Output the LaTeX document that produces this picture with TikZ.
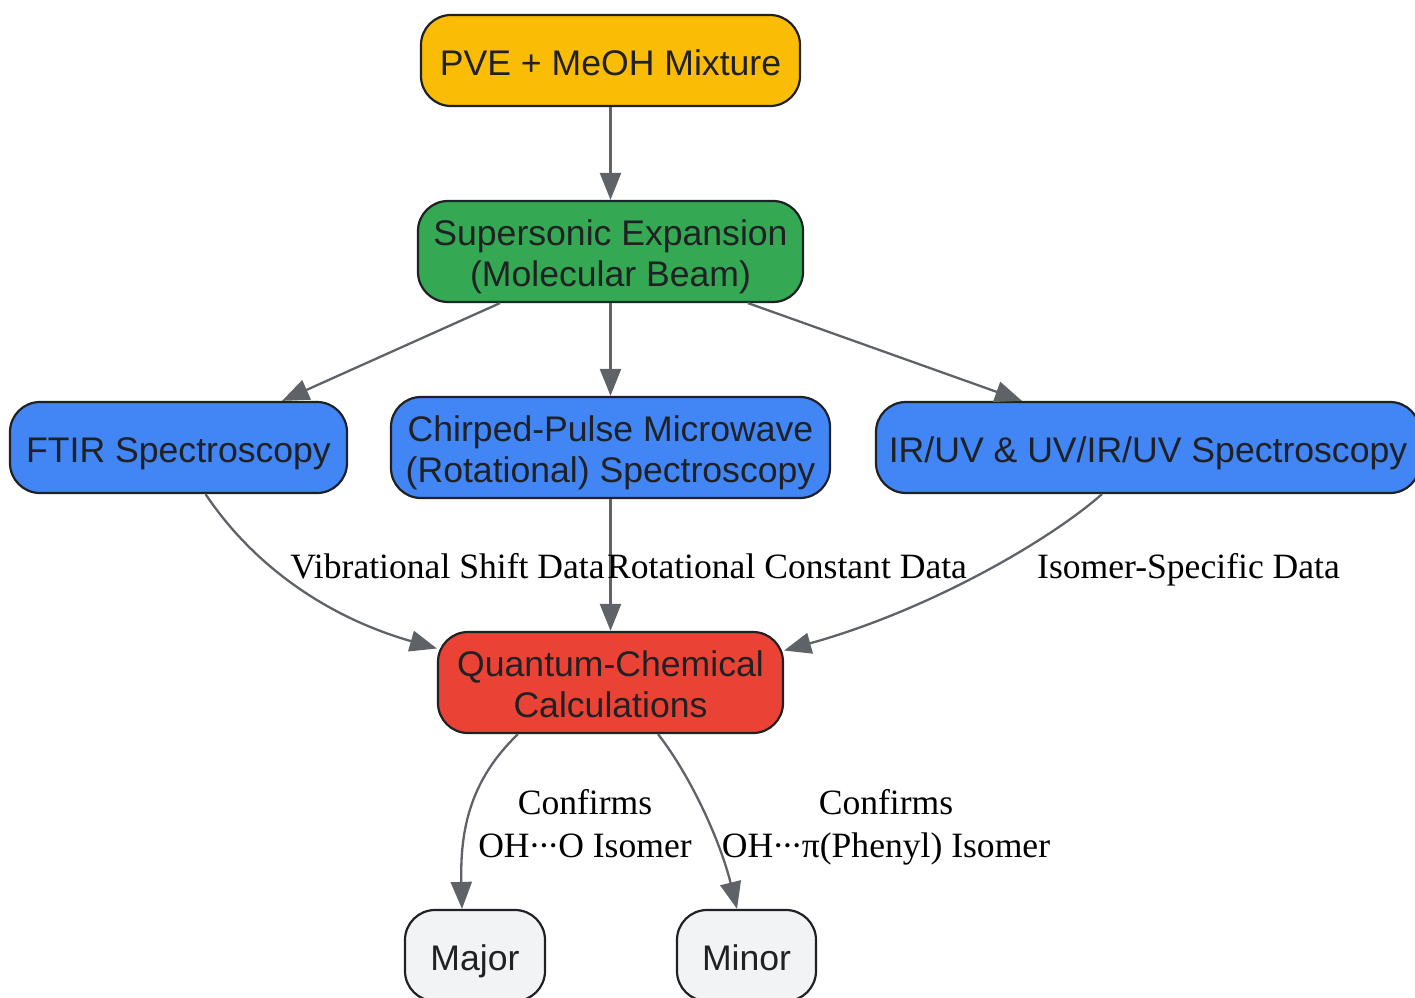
\documentclass[tikz,border=0pt]{standalone}
\usepackage{fontspec}
\setmainfont{Liberation Serif}
\newfontfamily\nodefont{Liberation Sans}
\usetikzlibrary{arrows.meta}
\definecolor{cAmber}{HTML}{FBBC05}
\definecolor{cGreen}{HTML}{34A853}
\definecolor{cBlue}{HTML}{4285F4}
\definecolor{cRed}{HTML}{EA4335}
\definecolor{cGrey}{HTML}{F1F3F4}
\definecolor{cBorder}{HTML}{202124}
\definecolor{cEdge}{HTML}{5F6368}
\newcommand{\twol}[2]{\begin{tabular}[b]{@{}c@{}}#1\\#2\end{tabular}}
\newcommand{\hdots}{\kern-1pt·\kern-2.5pt·\kern-2.5pt·\kern-1pt}
\tikzset{
  box/.style={draw=cBorder, line width=2.2pt, rounded corners=30pt, inner sep=0pt,
    text=cBorder, font=\nodefont\fontsize{35.6}{41}\selectfont\renewcommand{\arraystretch}{1}},
  onel/.style={text height=29pt, text depth=0pt},
  twolines/.style={text height=70pt, text depth=0pt},
  lbl/.style={inner sep=0pt, anchor=base, text=black, font=\fontsize{35.6}{42.4}\selectfont},
  edge/.style={draw=cEdge, line width=2.3pt, -{Triangle[length=27pt,width=21pt]}},
}
\begin{document}
\begin{tikzpicture}[x=1pt,y=-1pt]
\useasboundingbox (0,0) rectangle (1415,997);
\node[box, onel, fill=cAmber, minimum width=379pt, minimum height=91pt] (pve) at (610.5,60.5) {PVE + MeOH Mixture};
\node[box, twolines, fill=cGreen, minimum width=385pt, minimum height=101pt] (sup) at (610.5,251.5) {\twol{Supersonic Expansion}{(Molecular Beam)}};
\node[box, onel, fill=cBlue, minimum width=337pt, minimum height=91pt] (ftir) at (178.5,447.5) {FTIR Spectroscopy};
\node[box, twolines, fill=cBlue, minimum width=439pt, minimum height=101pt] (cp) at (610.5,447.5) {\twol{Chirped-Pulse Microwave}{(Rotational) Spectroscopy}};
\node[box, onel, fill=cBlue, minimum width=544pt, minimum height=91pt] (iruv) at (1148,447.5) {IR/UV \& UV/IR/UV Spectroscopy};
\node[box, twolines, fill=cRed, minimum width=345pt, minimum height=101pt] (qc) at (610.5,682.5) {\twol{Quantum-Chemical}{Calculations}};
\node[box, onel, fill=cGrey, minimum width=140pt, minimum height=91pt] (maj) at (475,955.5) {Major};
\node[box, onel, fill=cGrey, minimum width=139pt, minimum height=91pt] (min) at (746.5,955.5) {Minor};

\draw[edge] (pve.south) -- (sup.north);
\draw[edge] ([xshift=-110.5pt]sup.south) -- ([xshift=103.5pt]ftir.north);
\draw[edge] (sup.south) -- (cp.north);
\draw[edge] ([xshift=137.5pt]sup.south) -- ([xshift=-126pt]iruv.north);

\draw[edge] ([xshift=27pt]ftir.south) .. controls (255,568) and (330,618) .. ([yshift=34pt]qc.west);
\draw[edge] (cp.south) -- (qc.north);
\draw[edge] ([xshift=-46pt]iruv.south) .. controls (1050,540) and (930,610) .. ([yshift=32pt]qc.east);
\draw[edge] ([xshift=-92.5pt]qc.south) .. controls (470,780) and (460,830) .. ([xshift=-13pt]maj.north);
\draw[edge] ([xshift=47.5pt]qc.south) .. controls (690,775) and (720,840) .. ([xshift=-9.5pt]min.north);

\node[lbl] (l1) at (447.5,578) {Vibrational Shift Data};
\node[lbl] (l2) at (787,578) {Rotational Constant Data};
\node[lbl] (l3) at (1188.5,578) {Isomer-Specific Data};
\node[lbl] (l4) at (585,857) {\twol{Confirms}{OH\hdots O Isomer}};
\node[lbl] (l5) at (886,857) {\twol{Confirms}{OH\hdots π(Phenyl) Isomer}};
\end{tikzpicture}
\end{document}
